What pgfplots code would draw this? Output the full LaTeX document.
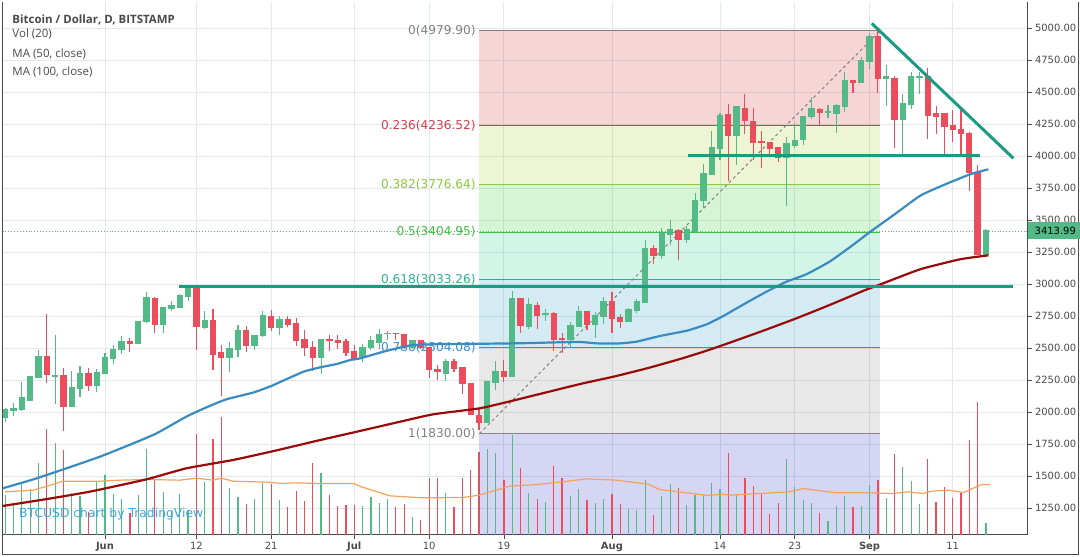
\documentclass[border=0pt]{standalone}
\usepackage{pgfplots}
\pgfplotsset{compat=1.18}
\usepackage{pgfplotstable}
\usepackage{fontspec}
\setmainfont{Open Sans}
\newfontfamily\dv{DejaVu Sans}
\definecolor{cg}{HTML}{53B987}
\definecolor{cr}{HTML}{EB4D5C}
\definecolor{gridc}{HTML}{E3E8EC}
\definecolor{axc}{HTML}{4A4A4A}
\definecolor{txt}{HTML}{4A4A4A}
\definecolor{ma50}{HTML}{3A8CC0}
\definecolor{ma100}{HTML}{990A0A}
\definecolor{vma}{HTML}{F7A05A}
\definecolor{tline}{HTML}{1A9B82}
\definecolor{f0}{HTML}{8C7B7B}
\definecolor{f236}{HTML}{D2404B}
\definecolor{f382}{HTML}{8CC83C}
\definecolor{f5}{HTML}{3CC03C}
\definecolor{f618}{HTML}{2AB08E}
\definecolor{f786}{HTML}{3C8ED0}
\definecolor{f1}{HTML}{858590}
\definecolor{b236}{HTML}{CD2D32}
\definecolor{b382}{HTML}{A5CD2D}
\definecolor{b5}{HTML}{2DCD2D}
\definecolor{b618}{HTML}{23CD8C}
\definecolor{b786}{HTML}{2D9BC8}
\definecolor{b1}{HTML}{8C8C8C}
\definecolor{b1618}{HTML}{2D2DC8}
\definecolor{wm}{HTML}{3AA6E0}

\pgfplotstableread{
d o h l c v
-12 1956 2029 1924 2015 11.8
-11 2010 2070 1971 2022 8.8
-10 2018 2234 2008 2109 15.3
-9 2088 2281 2083 2273 13.5
-8 2268 2484 2268 2430 21.3
-6 2276 2601 2065 2286 27.5
-4 2042 2320 2042 2188 12.5
-3 2177 2359 2120 2297 11.5
-1 2206 2336 2159 2305 15.8
0 2299 2461 2299 2422 17.8
1 2414 2520 2375 2489 12.1
2 2484 2594 2453 2547 10.5
4 2534 2703 2534 2703 11.8
5 2703 2937 2698 2891 25.6
7 2682 2823 2620 2812 12.7
8 2807 2870 2792 2828 6.8
9 2813 2922 2812 2906 12.1
10 2901 2987 2867 2961 7.3
12 2659 2789 2651 2711 15.7
15 2425 2547 2313 2492 13.8
16 2484 2680 2430 2633 11.1
18 2516 2599 2484 2599 10.5
19 2594 2789 2589 2750 15.5
21 2659 2750 2604 2719 10.3
26 2425 2568 2300 2568 18.5
31 2419 2531 2388 2505 8.5
32 2503 2594 2482 2555 11.3
33 2542 2648 2495 2602 9.5
34 2607 2633 2563 2615 10.7
37 2503 2563 2490 2555 5.3
41 2300 2412 2242 2391 12.3
46 1914 2234 1914 2234 25.6
47 2229 2401 2172 2313 24.5
49 2271 2943 2271 2883 29.8
51 2667 2891 2649 2836 12.3
53 2761 2805 2714 2766 9.6
56 2560 2703 2500 2672 11.5
57 2667 2828 2667 2781 13.6
59 2682 2781 2581 2750 9.3
60 2745 2898 2690 2859 10.6
63 2703 2812 2703 2797 7.6
64 2792 2883 2776 2859 7.3
65 2854 3344 2854 3274 16.3
67 3219 3438 3195 3391 11.5
68 3383 3500 3307 3422 15.1
70 3344 3453 3320 3422 8.8
71 3406 3714 3398 3648 11.8
72 3648 3935 3596 3859 11.8
73 3854 4195 3854 4062 15.4
74 4057 4333 3971 4312 13.6
76 4159 4391 3932 4385 12.1
82 3987 4151 3612 4094 22.6
83 4078 4258 4065 4117 14.1
84 4125 4305 4086 4305 10.3
85 4305 4458 4286 4370 9.3
87 4339 4396 4297 4346 4.0
88 4331 4409 4180 4393 8.5
89 4385 4656 4346 4588 11.5
91 4573 4776 4573 4745 8.5
92 4737 4958 4680 4932 14.7
94 4604 4711 4393 4615 11.0
96 4284 4484 4010 4406 20.1
97 4401 4654 4367 4617 16.0
98 4612 4654 4484 4622 9.0
106 3224 3427 3224 3414 3.5
}\greentab

\pgfplotstableread{
d o h l c v
-7 2430 2766 2229 2292 31.5
-5 2286 2341 1854 2042 25.3
-2 2297 2344 2167 2206 6.8
3 2547 2578 2471 2534 6.3
6 2883 2901 2620 2682 16.3
11 2961 2987 2484 2667 30.1
13 2711 2805 2331 2448 28.6
14 2461 2521 2125 2425 35.3
17 2633 2672 2471 2516 9.1
20 2745 2797 2633 2659 15.1
22 2719 2750 2667 2680 8.3
23 2690 2732 2518 2557 13.0
24 2562 2641 2440 2503 10.1
25 2505 2555 2323 2425 21.5
27 2568 2599 2479 2557 11.8
28 2557 2599 2495 2542 8.5
29 2547 2568 2438 2464 8.7
30 2471 2521 2406 2414 8.7
35 2615 2620 2563 2607 8.3
36 2602 2602 2492 2503 9.1
38 2555 2565 2495 2503 4.3
39 2503 2510 2268 2326 17.0
40 2331 2367 2250 2313 17.0
42 2391 2412 2313 2339 8.3
43 2344 2344 2141 2216 17.0
44 2221 2221 1974 1974 19.3
45 1974 2029 1860 1914 24.8
48 2313 2409 2234 2271 16.3
50 2883 2891 2617 2674 19.8
52 2828 2859 2649 2753 10.6
54 2766 2780 2480 2565 20.5
55 2575 2620 2460 2560 16.8
58 2781 2781 2643 2682 10.3
61 2859 2937 2617 2729 12.1
62 2734 2766 2659 2703 9.1
66 3274 3305 3159 3219 5.8
69 3414 3430 3187 3344 14.0
75 4325 4406 3805 4159 24.5
77 4365 4487 4174 4276 16.8
78 4266 4375 3971 4104 14.5
79 4109 4193 3909 4101 12.3
80 4101 4101 4010 4057 6.1
81 4062 4062 3956 3987 9.3
86 4362 4378 4240 4339 6.3
90 4588 4588 4490 4573 8.2
93 4932 4984 4495 4604 16.3
95 4607 4625 4065 4279 24.1
99 4622 4685 4135 4315 22.6
100 4333 4388 4174 4307 9.7
101 4328 4328 4010 4229 14.2
102 4234 4359 4109 4206 11.0
103 4206 4383 4010 4174 12.5
104 4177 4185 3729 3867 28.3
105 3867 3927 3224 3224 39.7
}\redtab

\pgfplotstableread{
d v
-12 12.8
-8.6 13.3
-5 16.0
-0.6 16.0
1.8 16.3
5 16.5
9 16.3
11 16.9
13 16.3
14 16.9
15.4 16.0
19.5 15.7
21.5 15.3
22.7 15.5
25.9 15.3
29.9 15.3
31.1 14.1
34.3 11.6
38.3 11.0
43.1 11.1
45 11.8
47.1 13.3
48.7 14.5
52 15.0
55 15.8
58 16.7
61.5 16.3
65.4 15.1
66.7 13.5
70.7 12.3
72.5 11.7
74.3 12.1
75.2 11.8
78.8 12.3
82.3 12.8
84.1 13.8
85.5 13.3
88 12.5
92 12.5
94.8 12.3
96.6 12.8
98.4 12.3
99.5 13.0
101.5 13.3
103.3 12.6
105.5 15.0
106.5 15.0
}\volma

\begin{document}
\begin{tikzpicture}
\path[use as bounding box] (0,0) rectangle (1080bp,557bp);
\begin{axis}[
  at={(2.5bp,22.5bp)}, anchor=south west,
  scale only axis, width=1025bp, height=532bp,
  xmin=-12.33, xmax=111.0, ymin=1043, ymax=5199,
  axis x line*=bottom, axis y line*=right,
  axis line style={axc, line width=1bp},
  tick align=outside, major tick length=4bp,
  tick style={axc, line width=0.8bp},
  xtick={0,11,20,30,39,48,61,74,83,92,102},
  xticklabels={\textbf{Jun},12,21,\textbf{Jul},10,19,\textbf{Aug},14,23,\textbf{Sep},11},
  ytick={1250,1500,...,5000},
  yticklabel={\pgfmathprintnumber[fixed,fixed zerofill,precision=2,1000 sep={}]{\tick}},
  ticklabel style={font=\dv\fontsize{10}{12}\selectfont, text=txt},
  /pgf/number format/assume math mode=true,
  grid=major, major grid style={gridc, line width=0.9bp},
  candle/.style={draw=none, mark=none, error bars/.cd, y dir=plus, y explicit, error mark=none},
]
% fib bands
\fill[b236, fill opacity=0.2] (axis cs:45.04,4236.52) rectangle (axis cs:93.3,4979.9);
\fill[b382, fill opacity=0.2] (axis cs:45.04,3776.64) rectangle (axis cs:93.3,4236.52);
\fill[b5, fill opacity=0.2] (axis cs:45.04,3404.95) rectangle (axis cs:93.3,3776.64);
\fill[b618, fill opacity=0.2] (axis cs:45.04,3033.26) rectangle (axis cs:93.3,3404.95);
\fill[b786, fill opacity=0.2] (axis cs:45.04,2504.08) rectangle (axis cs:93.3,3033.26);
\fill[b1, fill opacity=0.2] (axis cs:45.04,1830) rectangle (axis cs:93.3,2504.08);
\fill[b1618, fill opacity=0.2] (axis cs:45.04,1043) rectangle (axis cs:93.3,1830);
% fib lines
\draw[f0, line width=1bp] (axis cs:45.04,4979.9) -- (axis cs:93.3,4979.9);
\draw[f236, line width=1bp] (axis cs:45.04,4236.52) -- (axis cs:93.3,4236.52);
\draw[f382, line width=1bp] (axis cs:45.04,3776.64) -- (axis cs:93.3,3776.64);
\draw[f5, line width=1bp] (axis cs:45.04,3404.95) -- (axis cs:93.3,3404.95);
\draw[f618, line width=1bp] (axis cs:45.04,3033.26) -- (axis cs:93.3,3033.26);
\draw[f786, line width=1bp] (axis cs:45.04,2504.08) -- (axis cs:93.3,2504.08);
\draw[f1, line width=1bp] (axis cs:45.04,1830) -- (axis cs:93.3,1830);
\draw[gray, line width=1bp, dash pattern=on 3bp off 3bp] (axis cs:45.04,1830) -- (axis cs:93.3,4979.9);
% fib labels
\begin{scope}[every node/.style={anchor=east, xshift=-3.5bp, inner sep=0pt, font=\dv\fontsize{12.2}{14}\selectfont}]
\node[text=gray] at (axis cs:45.04,4979.9) {0(4979.90)};
\node[text=f236] at (axis cs:45.04,4236.52) {0.236(4236.52)};
\node[text=f382] at (axis cs:45.04,3776.64) {0.382(3776.64)};
\node[text=f5] at (axis cs:45.04,3404.95) {0.5(3404.95)};
\node[text=f618] at (axis cs:45.04,3033.26) {0.618(3033.26)};
\node[text=f786] at (axis cs:45.04,2504.08) {0.786(2504.08)};
\node[text=gray] at (axis cs:45.04,1830) {1(1830.00)};
\end{scope}
% volume
\addplot[ycomb, cg, line width=1.2bp, mark=none] table[x=d, y expr=1043+26.04*\thisrow{v}] {\greentab};
\addplot[ycomb, cr, line width=1.2bp, mark=none] table[x=d, y expr=1043+26.04*\thisrow{v}] {\redtab};
\addplot[vma, line width=1.2bp, mark=none] table[x=d, y expr=1043+26.04*\thisrow{v}] {\volma};
% last price line
\addplot[cg, dotted, line width=0.9bp, mark=none] coordinates {(-12.33,3414) (111,3414)};
% candles: wicks
\addplot[candle, error bar style={draw=cg, line width=1.1bp}] table[x=d, y=l, y error expr=\thisrow{h}-\thisrow{l}] {\greentab};
\addplot[candle, error bar style={draw=cr, line width=1.1bp}] table[x=d, y=l, y error expr=\thisrow{h}-\thisrow{l}] {\redtab};
% candles: bodies
\addplot[candle, error bar style={draw=cg, line width=6.3bp}] table[x=d, y=o, y error expr=\thisrow{c}-\thisrow{o}+6] {\greentab};
\addplot[candle, error bar style={draw=cr, line width=6.3bp}] table[x=d, y=c, y error expr=\thisrow{o}-\thisrow{c}+6] {\redtab};
% moving averages
\addplot[ma50, line width=2.2bp, mark=none, smooth, tension=0.3] coordinates {
(-12.3,1404) (-8.6,1474) (-5.0,1552) (-0.6,1651) (3.4,1755) (6.2,1833) (9.8,1964) (12.2,2036) (14.6,2099) (17.8,2151) (19.9,2200) (21.1,2235) (23.9,2315) (25.9,2349) (27.9,2375) (29.5,2406) (30.7,2419) (33.5,2471) (36.7,2520) (40,2530) (45,2533) (50,2537) (55,2545) (57.2,2547) (59.2,2536) (62,2536) (64,2550) (66.8,2594) (70,2635) (72.4,2685) (74.4,2750) (77.2,2854) (79.6,2940) (82,3018) (84.4,3076) (87.2,3175) (90,3305) (92.1,3409) (94.9,3539) (98.1,3690) (100.9,3773) (104.1,3857) (106.3,3896)};
\addplot[ma100, line width=2.2bp, mark=none, smooth, tension=0.3] coordinates {
(-12.3,1266) (-7.0,1320) (-1.8,1378) (5.0,1474) (9.8,1560) (15.4,1625) (20.3,1695) (25.9,1781) (30.3,1846) (35.5,1924) (39.5,1982) (45.1,2029) (49.1,2089) (57.2,2219) (61.2,2276) (65.2,2341) (69.2,2414) (72.4,2479) (75.2,2542) (79.2,2635) (83.2,2732) (87.2,2836) (91.3,2948) (93.3,2997) (98.1,3115) (102.9,3193) (106.3,3224)};
% trend lines
\addplot[tline, line width=3bp, mark=none] coordinates {(8.94,2983) (109.3,2983)};
\addplot[tline, line width=3bp, mark=none] coordinates {(70.2,4004) (105.3,4004)};
\addplot[tline, line width=3bp, mark=none] coordinates {(92.26,5036) (109.3,3982)};
\end{axis}
% frame
\draw[axc, line width=1bp] (2.5bp,554.5bp) -- (2.5bp,2bp) -- (1078.5bp,2bp) -- (1078.5bp,554.5bp);
% last price label
\fill[cg] (1028bp,317.5bp) rectangle (1080bp,334.5bp);
\node[anchor=west, inner sep=0pt, font=\dv\fontsize{10}{12}\selectfont, text=black] at (1034.5bp,326bp) {3413.99};
% legend text
\node[anchor=base west, inner sep=0pt, font=\fontsize{11.5}{13}\selectfont\bfseries, text=txt] at (12.3bp,533bp) {Bitcoin / Dollar, D, BITSTAMP};
\node[anchor=base west, inner sep=0pt, font=\fontsize{11.5}{13}\selectfont, text=txt] at (12.3bp,519.7bp) {Vol (20)};
\node[anchor=base west, inner sep=0pt, font=\fontsize{11.5}{13}\selectfont, text=txt] at (12.3bp,499.7bp) {MA (50, close)};
\node[anchor=base west, inner sep=0pt, font=\fontsize{11.5}{13}\selectfont, text=txt] at (12.3bp,481.3bp) {MA (100, close)};
\node[anchor=base west, inner sep=0pt, font=\dv\fontsize{12.4}{14}\selectfont, text=wm] at (19bp,39.7bp) {BTCUSD chart by TradingView};
\end{tikzpicture}
\end{document}
